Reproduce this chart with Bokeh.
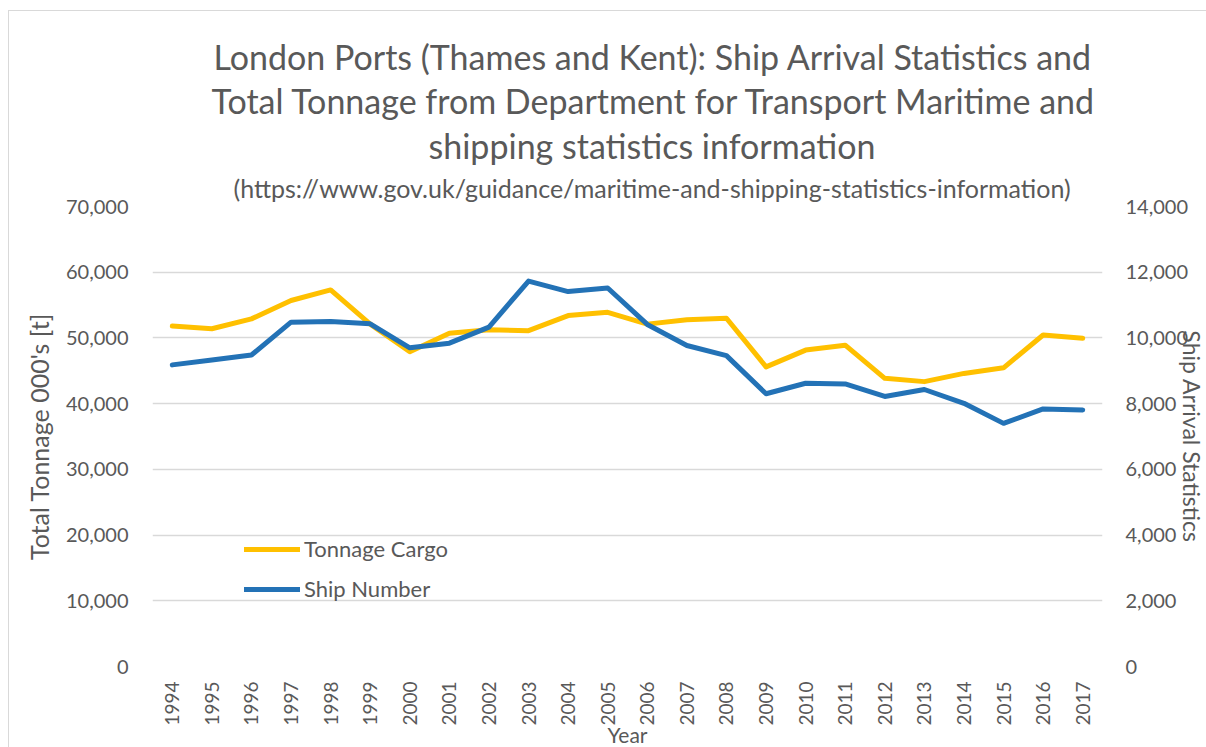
import math
from bokeh.plotting import figure
from bokeh.models import (Range1d, LinearAxis, FixedTicker, NumeralTickFormatter,
                          Legend, LegendItem, FactorRange, Title)
from bokeh.embed import file_html
from bokeh.resources import INLINE

years = [str(y) for y in range(1994, 2018)]
tonnage_cargo = [51800, 51400, 52900, 55700, 57300, 52100, 47900, 50700, 51250, 51100,
                 53400, 53900, 52100, 52750, 53000, 45600, 48150, 48900, 43850, 43350,
                 44600, 45450, 50450, 49950]
ship_number = [9180, 9330, 9480, 10480, 10500, 10430, 9700, 9840, 10330, 11730,
               11410, 11520, 10410, 9770, 9460, 8300, 8620, 8600, 8220, 8430,
               8010, 7400, 7840, 7810]
left_ticks = [0, 10000, 20000, 30000, 40000, 50000, 60000, 70000]
right_ticks = [0, 2000, 4000, 6000, 8000, 10000, 12000, 14000]

title_lines = ["London Ports (Thames and Kent): Ship Arrival Statistics and",
               "Total Tonnage from Department for Transport Maritime and",
               "shipping statistics information"]
subtitle = "(https://www.gov.uk/guidance/maritime-and-shipping-statistics-information)"

FONT = "Lato"
GREY = "#595959"
YELLOW = "#FFC000"
BLUE = "#2372B6"

# page geometry of the chart area (canvas starts after 8px/10px offset + 1px border)
OX, OY = 9, 11
FL, FT, FW, FH = 152 - OX, 206 - OY, 950, 460
W, H = 1206 - OX, 747 - OY

p = figure(x_range=FactorRange(*years, range_padding=0), y_range=Range1d(0, 70000),
           frame_width=FW, frame_height=FH,
           min_border_left=FL, min_border_right=W - FL - FW,
           min_border_top=FT, min_border_bottom=H - FT - FH,
           output_backend="svg", toolbar_location=None)
p.styles = {"margin-left": "8px", "margin-top": "10px",
            "border-left": "1px solid #d9d9d9", "border-top": "1px solid #d9d9d9"}
p.outline_line_color = None
p.extra_y_ranges = {"ships": Range1d(0, 14000)}

r1 = p.line(years, tonnage_cargo, line_color=YELLOW, line_width=5, line_join="round",
            line_cap="round")
r2 = p.line(years, ship_number, line_color=BLUE, line_width=5, line_join="round",
            line_cap="round", y_range_name="ships")

# left axis
ya = p.yaxis[0]
ya.ticker = FixedTicker(ticks=left_ticks)
ya.formatter = NumeralTickFormatter(format="0,0")
ya.axis_line_color = None
ya.major_tick_line_color = None
ya.major_tick_out = 0
ya.major_tick_in = 0
ya.minor_tick_line_color = None
ya.major_label_text_font = FONT
ya.major_label_text_font_size = "20px"
ya.major_label_text_color = GREY
ya.major_label_standoff = 24
ya.axis_label = "Total Tonnage 000's [t]"
ya.axis_label_text_font = FONT
ya.axis_label_text_font_size = "25px"
ya.axis_label_text_font_style = "normal"
ya.axis_label_text_color = GREY
ya.axis_label_standoff = 9

# right axis
ra = LinearAxis(y_range_name="ships", ticker=FixedTicker(ticks=right_ticks),
                formatter=NumeralTickFormatter(format="0,0"))
ra.axis_line_color = None
ra.major_tick_line_color = None
ra.major_tick_out = 0
ra.major_tick_in = 0
ra.minor_tick_line_color = None
ra.major_label_text_font = FONT
ra.major_label_text_font_size = "20px"
ra.major_label_text_color = GREY
ra.major_label_standoff = 23
ra.axis_label = "Ship Arrival Statistics"
ra.axis_label_text_font = FONT
ra.axis_label_text_font_size = "23px"
ra.axis_label_text_font_style = "normal"
ra.axis_label_text_color = GREY
ra.axis_label_standoff = -13
p.add_layout(ra, "right")

# x axis
xa = p.xaxis[0]
xa.axis_line_color = None
xa.major_tick_line_color = None
xa.major_tick_out = 0
xa.major_tick_in = 0
xa.minor_tick_line_color = None
xa.major_label_orientation = math.pi / 2
xa.major_label_text_font = FONT
xa.major_label_text_font_size = "19px"
xa.major_label_text_color = GREY
xa.major_label_standoff = 15
xa.axis_label = "Year"
xa.axis_label_text_font = FONT
xa.axis_label_text_font_size = "21px"
xa.axis_label_text_font_style = "normal"
xa.axis_label_text_color = GREY
xa.axis_label_standoff = -7

p.xgrid.grid_line_color = None
p.ygrid.grid_line_color = "#d9d9d9"
p.ygrid.grid_line_width = 1.5

# titles (added from the plot outward), left-aligned with offsets centring them at x=651
p.add_layout(Title(text=subtitle, align="left", offset=81, standoff=8,
                   text_font=FONT, text_font_size="25px", text_font_style="normal",
                   text_color=GREY), "above")
for t, off, so in zip(reversed(title_lines), [276, 59, 61], [2, 1, 1]):
    p.add_layout(Title(text=t, align="left", offset=off, standoff=so,
                       text_font=FONT, text_font_size="34px", text_font_style="normal",
                       text_color=GREY), "above")

legend = Legend(items=[LegendItem(label="Tonnage Cargo", renderers=[r1]),
                       LegendItem(label="Ship Number", renderers=[r2])],
                location=(92, 64), orientation="vertical",
                glyph_width=56, glyph_height=24, label_height=24, spacing=13,
                padding=0, margin=0,
                label_text_font=FONT, label_text_font_size="22px", label_text_color=GREY,
                label_standoff=4, border_line_color=None, background_fill_alpha=0)
p.add_layout(legend, "center")

open("out.html", "w").write(file_html(p, INLINE))
